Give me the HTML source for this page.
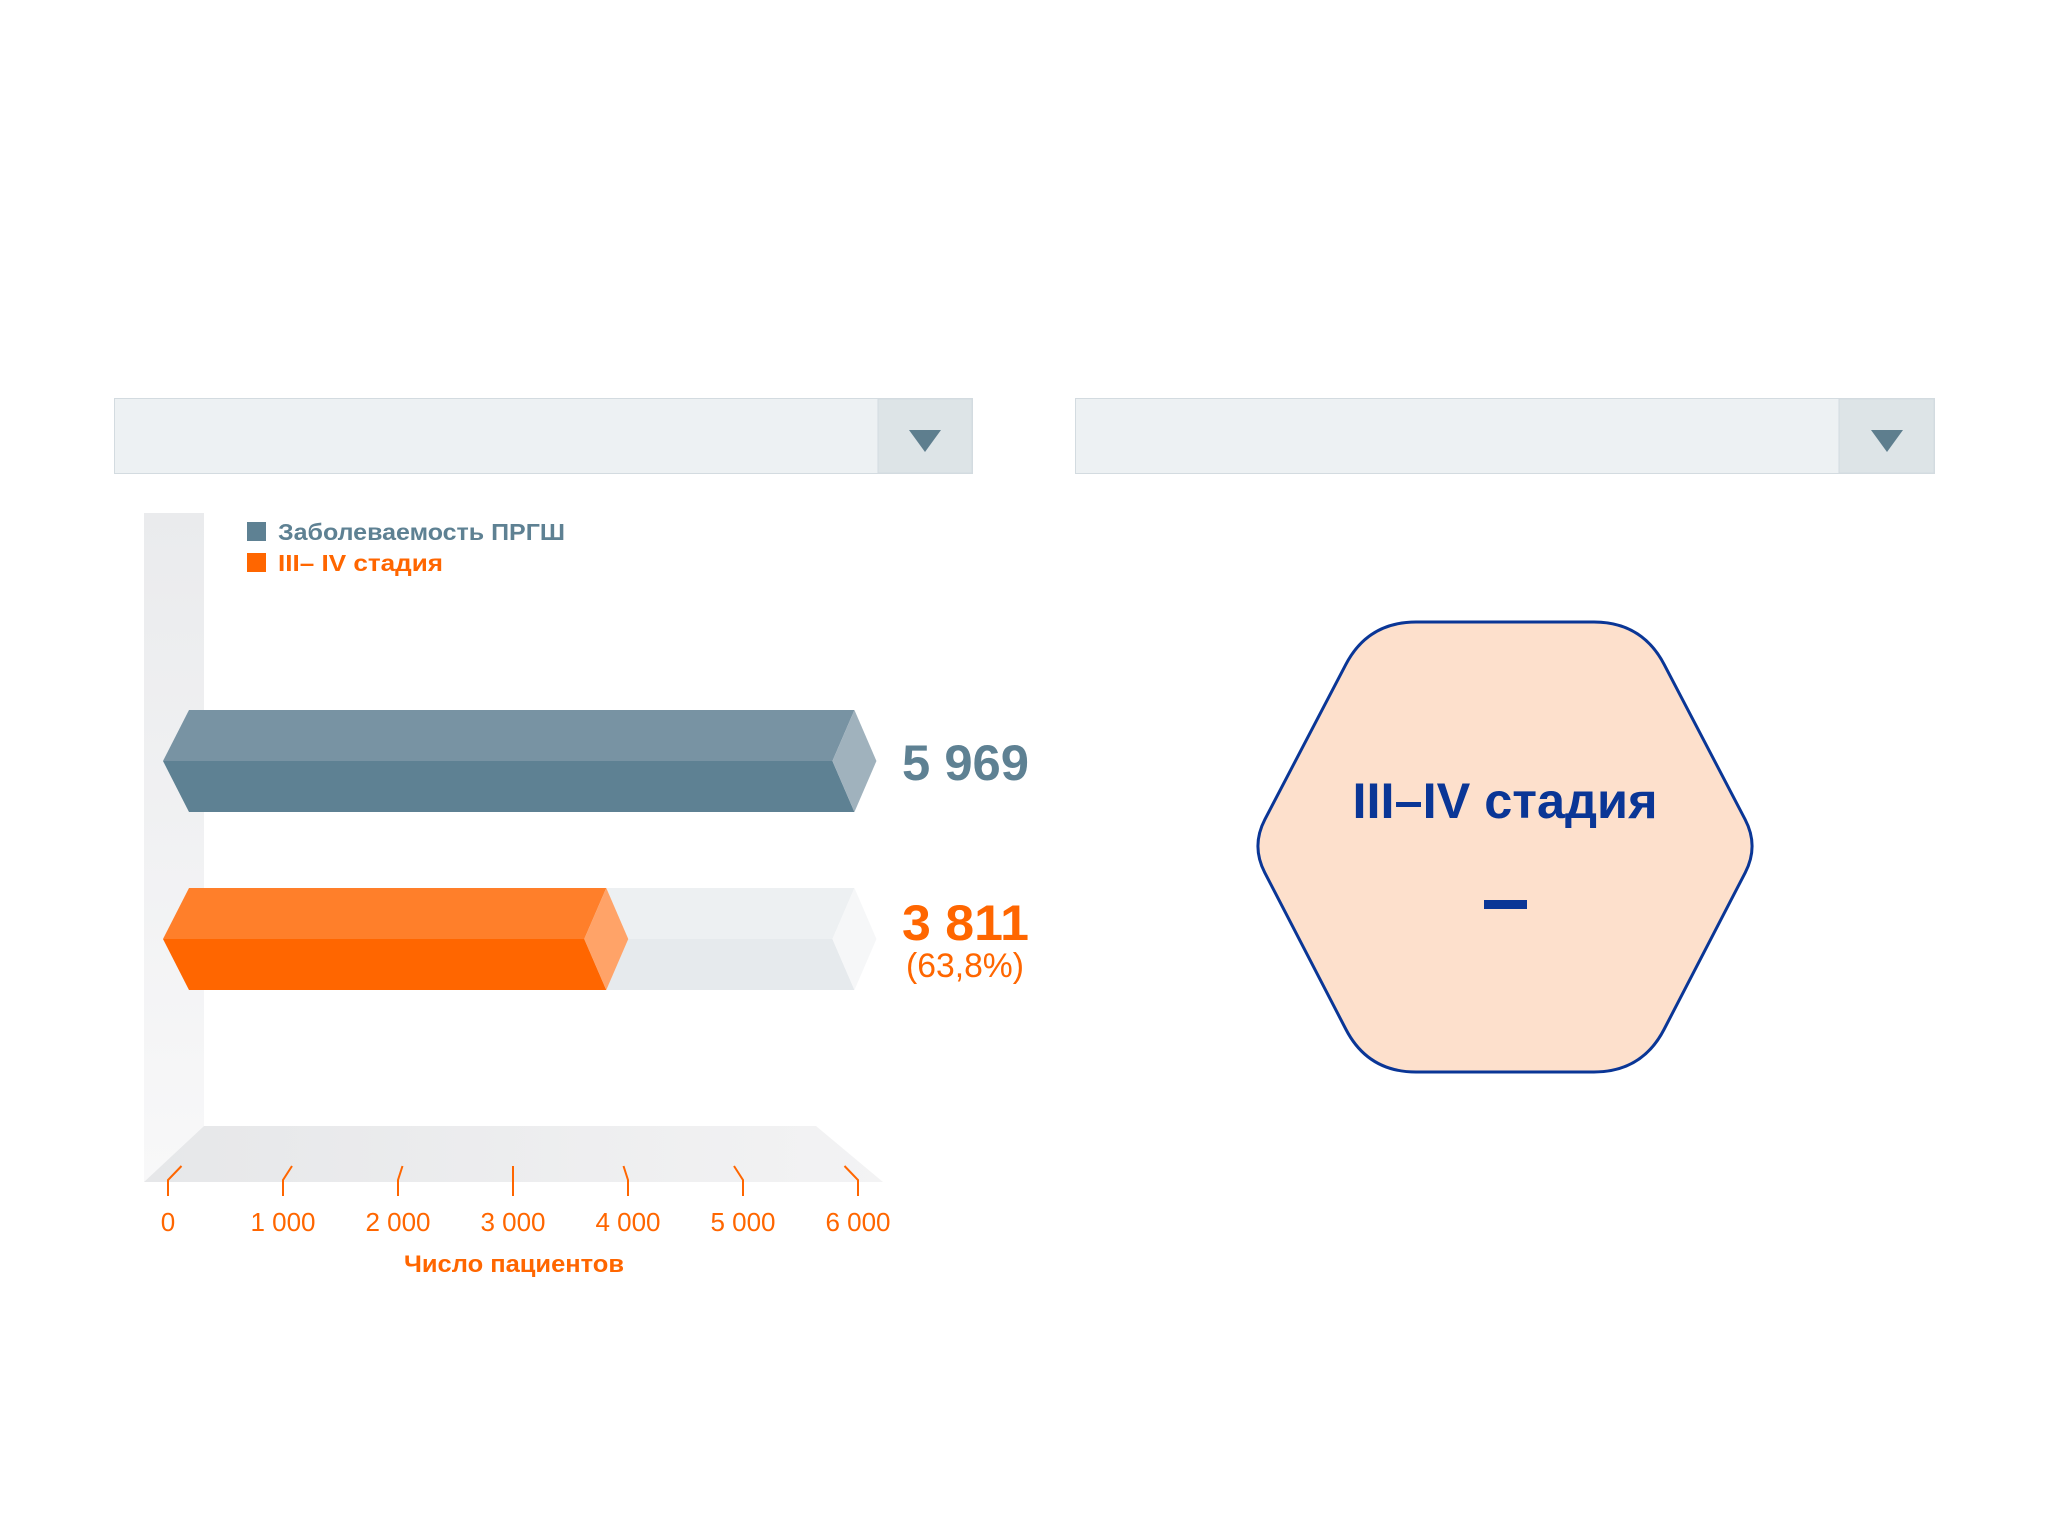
<!DOCTYPE html>
<html><head><meta charset="utf-8"><style>
body{margin:0;width:2048px;height:1536px;background:#fff;overflow:hidden;font-family:"Liberation Sans",sans-serif}
svg{position:absolute;left:0;top:0}
</style></head><body>
<svg id="c" width="2048" height="1536" viewBox="0 0 2048 1536">
<defs>
<linearGradient id="wall" x1="0" y1="0" x2="0" y2="1"><stop offset="0" stop-color="#eaebed"/><stop offset="1" stop-color="#f8f8f9"/></linearGradient>
<linearGradient id="floor" x1="0" y1="0" x2="1" y2="0"><stop offset="0" stop-color="#e6e7e9"/><stop offset="1" stop-color="#f3f3f4"/></linearGradient>
</defs>
<g>
<rect x="114.5" y="398.5" width="858" height="75" fill="#edf1f3" stroke="#d3dbe0"/>
<rect x="878" y="399" width="94" height="74" fill="#dde4e7" stroke="#d3dbe0"/>
<polygon points="909,430 941,430 925,452" fill="#5e7e8e"/>
</g>
<g>
<rect x="1075.5" y="398.5" width="859" height="75" fill="#edf1f3" stroke="#d3dbe0"/>
<rect x="1839" y="399" width="95" height="74" fill="#dde4e7" stroke="#d3dbe0"/>
<polygon points="1871,430 1903,430 1887,452" fill="#5e7e8e"/>
</g>
<polygon points="144,513 204,513 204,1126 144,1182" fill="url(#wall)"/>
<polygon points="204,1126 816,1126 883,1182 144,1182" fill="url(#floor)"/>
<rect x="247" y="522" width="19" height="19" fill="#5e8193"/>
<text x="278" y="540" font-size="23" font-weight="bold" fill="#5e8193" textLength="287" lengthAdjust="spacingAndGlyphs">Заболеваемость ПРГШ</text>
<rect x="247" y="553" width="19" height="19" fill="#ff6600"/>
<text x="278" y="571" font-size="23" font-weight="bold" fill="#ff6600" textLength="165" lengthAdjust="spacingAndGlyphs">III– IV стадия</text>
<g id="bars"></g>
<g id="axis"></g>
<text x="514" y="1272" font-size="24" font-weight="bold" fill="#ff6600" text-anchor="middle" textLength="220" lengthAdjust="spacingAndGlyphs">Число пациентов</text>
<g>
<path id="hex" fill="#fde0cc" stroke="#0a3696" stroke-width="3"/>
<text x="1505" y="818" font-size="50" font-weight="bold" fill="#0a3696" text-anchor="middle" textLength="305" lengthAdjust="spacingAndGlyphs">III–IV стадия</text>
<rect x="1484" y="900" width="43" height="9" fill="#0a3696"/>
</g>
</svg>
<script>
const categories=["Заболеваемость ПРГШ","III–IV стадия"];
const values=[5969,3811];
const totals=[5969,5969];
const valueLabels=["5 969","3 811"];
const pctLabels=["","(63,8%)"];
const ticks=[0,1000,2000,3000,4000,5000,6000];
const tickLabels=["0","1 000","2 000","3 000","4 000","5 000","6 000"];
const NS="http://www.w3.org/2000/svg";
const X=v=>168+v*(690/6000);
const rowMid=[761,939], half=51;
const colors=[{t:"#7893a3",b:"#5e8193",c:"#a0b2bd",l:"#5e8193"},{t:"#ff7f2a",b:"#ff6600",c:"#ffa368",l:"#ff6600"}];
const bars=document.getElementById('bars');
function poly(pts,fill){const p=document.createElementNS(NS,'polygon');p.setAttribute('points',pts.map(a=>a.join(',')).join(' '));p.setAttribute('fill',fill);bars.appendChild(p);return p;}
function seg(x,m,fT,fB,fC){
 const t=m-half,b=m+half;
 return [poly([[163,m],[189,t],[x,t],[x-22,m]],fT),poly([[163,m],[189,b],[x,b],[x-22,m]],fB),poly([[x,t],[x+22,m],[x,b],[x-22,m]],fC)];
}
values.forEach((v,i)=>{
 const m=rowMid[i];
 if(i===1){
  const tr=seg(X(totals[i]),m,"#edf0f2","#e6eaed","#f6f7f8");
  tr.forEach(e=>{});
 }
 const s=seg(X(v),m,colors[i].t,colors[i].b,colors[i].c);
 s.forEach(e=>{});
 const tx=document.createElementNS(NS,'text');
 
 
 tx.setAttribute('x',902);tx.setAttribute('y',i===0?m+19:m+1);
 tx.setAttribute('font-size',50);tx.setAttribute('font-weight','bold');tx.setAttribute('fill',colors[i].l);
 tx.setAttribute('textLength',127);tx.setAttribute('lengthAdjust','spacingAndGlyphs');
 tx.textContent=valueLabels[i];bars.appendChild(tx);
 if(pctLabels[i]){
  const p=document.createElementNS(NS,'text');
  
  
  p.setAttribute('x',906);p.setAttribute('y',m+38);p.setAttribute('font-size',34);p.setAttribute('fill',colors[i].l);
  p.setAttribute('textLength',118);p.setAttribute('lengthAdjust','spacingAndGlyphs');
  p.textContent=pctLabels[i];bars.appendChild(p);
 }
});
const axis=document.getElementById('axis');
ticks.forEach((t,i)=>{
 const x=X(t), d=-(i-3)*4.5;
 const pl=document.createElementNS(NS,'polyline');
 
 
 pl.setAttribute('points',`${x+d},1166 ${x},1180 ${x},1196`);
 pl.setAttribute('fill','none');pl.setAttribute('stroke','#ff6600');pl.setAttribute('stroke-width','2');
 axis.appendChild(pl);
 const tx=document.createElementNS(NS,'text');
 
 
 tx.setAttribute('x',x);tx.setAttribute('y',1231);tx.setAttribute('font-size',26);tx.setAttribute('fill','#ff6600');tx.setAttribute('text-anchor','middle');
 tx.textContent=tickLabels[i];axis.appendChild(tx);
});
const V=[[1251,846],[1368,622],[1642,622],[1759,846],[1642,1072],[1368,1072]];
const r=48;let d="";
V.forEach((p,i)=>{
 const a=V[(i+5)%6],c=V[(i+1)%6];
 const la=Math.hypot(a[0]-p[0],a[1]-p[1]),lc=Math.hypot(c[0]-p[0],c[1]-p[1]);
 const rr=(i%3===0)?30:r;
 const p1=[p[0]+(a[0]-p[0])*rr/la,p[1]+(a[1]-p[1])*rr/la],p2=[p[0]+(c[0]-p[0])*rr/lc,p[1]+(c[1]-p[1])*rr/lc];
 d+=(i===0?"M":"L")+p1[0]+","+p1[1]+" Q"+p[0]+","+p[1]+" "+p2[0]+","+p2[1]+" ";
});
document.getElementById('hex').setAttribute('d',d+"Z");
</script>
</body></html>
